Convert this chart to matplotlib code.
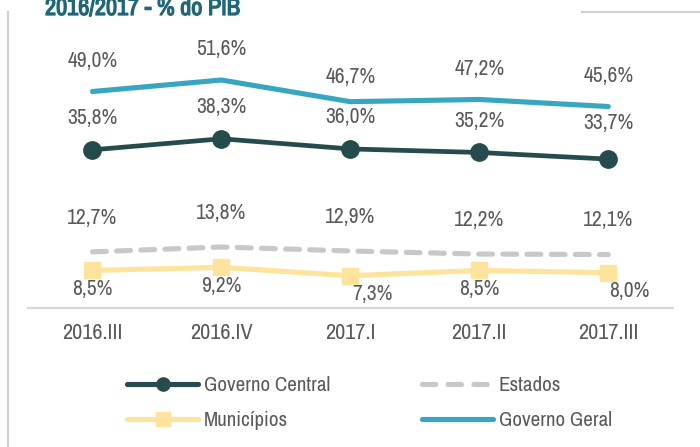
import matplotlib

matplotlib.use("Agg")
import matplotlib.pyplot as plt
import matplotlib.patheffects as pe
from matplotlib import font_manager
from matplotlib.lines import Line2D
import numpy as np

# prefer a narrow face like the original (Arial Narrow look)
_fonts = font_manager.fontManager.ttflist
_narrow = sorted({f.name for f in _fonts if "Narrow" in f.name or "Condensed" in f.name})
_cond = sorted({f.name for f in _fonts if str(f.stretch) in ("condensed", "semi-condensed", "extra-condensed")})
if _narrow:
    FAMILY = [_narrow[0], "DejaVu Sans"]
    STRETCH = "normal"
elif _cond:
    FAMILY = [_cond[0], "DejaVu Sans"]
    STRETCH = "condensed"
else:
    FAMILY = ["Liberation Sans", "DejaVu Sans"]
    STRETCH = "normal"

plt.rcParams.update(
    {
        "font.family": FAMILY,
        "font.stretch": STRETCH,
        "axes.unicode_minus": False,
    }
)

QUARTERS = ["2016.III", "2016.IV", "2017.I", "2017.II", "2017.III"]
GOV_GERAL = [49.0, 51.6, 46.7, 47.2, 45.6]
GOV_CENTRAL = [35.8, 38.3, 36.0, 35.2, 33.7]
ESTADOS = [12.7, 13.8, 12.9, 12.2, 12.1]
MUNICIPIOS = [8.5, 9.2, 7.3, 8.5, 8.0]

C_CENTRAL = "#264B4C"
C_GERAL = "#38A6C0"
C_ESTADOS = "#C8C8C8"
C_MUNIC = "#FDE39C"
C_TEXT = "#5A5A5A"
C_TITLE = "#1F6677"
FS = 15.5


def fmt(v):
    return f"{v:.1f}%".replace(".", ",")


fig = plt.figure(figsize=(7.0, 4.47), dpi=100)
ax = fig.add_axes([0.04, 0.311, 0.921, 0.593])
x = np.arange(len(QUARTERS))

ax.plot(x, GOV_GERAL, color=C_GERAL, lw=3.7, solid_capstyle="round", zorder=3)
ax.plot(x, GOV_CENTRAL, color=C_CENTRAL, lw=3.4, marker="o", ms=12.5,
        solid_capstyle="round", zorder=3)
ax.plot(x, ESTADOS, color=C_ESTADOS, lw=3.7, linestyle=(0, (2.7, 2.0)),
        dash_capstyle="round", zorder=2)
ax.plot(x, MUNICIPIOS, color=C_MUNIC, lw=3.7, marker="s", ms=12,
        solid_capstyle="round", zorder=2)

# label offsets in points (excel-style placement)
geral_dy = [22, 22, 18, 22, 22]
central_dy = [23, 23, 23, 23, 26]
mun_dx = [0, 0, 16, 0, 15]

lab = dict(ha="center", va="center", fontsize=FS, color=C_TEXT,
           textcoords="offset points")
for i in x:
    ax.annotate(fmt(GOV_GERAL[i]), (i, GOV_GERAL[i]), xytext=(0, geral_dy[i]), **lab)
    ax.annotate(fmt(GOV_CENTRAL[i]), (i, GOV_CENTRAL[i]), xytext=(0, central_dy[i]), **lab)
    ax.annotate(fmt(ESTADOS[i]), (i, ESTADOS[i]), xytext=(0, 24.5), **lab)
    ax.annotate(fmt(MUNICIPIOS[i]), (i, MUNICIPIOS[i]), xytext=(mun_dx[i], -13.5), **lab)

ax.set_xlim(-0.5, 4.5)
ax.set_ylim(0, 60)
ax.set_xticks(x)
ax.set_xticklabels(QUARTERS, fontsize=16, color=C_TEXT)
ax.tick_params(axis="x", length=0, pad=11)
ax.set_yticks([])
for s in ["top", "right", "left"]:
    ax.spines[s].set_visible(False)
ax.spines["bottom"].set_color("#D9D9D9")
ax.spines["bottom"].set_linewidth(1.6)

# outer frame pieces and title (cut at the top edge, as in the original)
fig.add_artist(Line2D([8 / 700, 8 / 700], [0, 1 - 12 / 447], color="#D0D0D0", lw=1.5))
fig.add_artist(Line2D([582 / 700, 1], [1 - 12 / 447, 1 - 12 / 447], color="#D0D0D0", lw=1.5))
title = fig.text(45 / 700, 1 - 15 / 447, "2016/2017 - % do PIB", fontsize=17.5, fontweight="bold",
                 color=C_TITLE, va="baseline", ha="left")
title.set_path_effects([pe.withStroke(linewidth=0.9, foreground=C_TITLE)])

handles = [
    Line2D([], [], color=C_CENTRAL, lw=3.7, marker="o", ms=9.5, solid_capstyle="round"),
    Line2D([], [], color=C_MUNIC, lw=3.7, marker="s", ms=9.5, solid_capstyle="round"),
    Line2D([], [], color=C_ESTADOS, lw=3.7, linestyle=(0, (2.6, 2.4)), dash_capstyle="round"),
    Line2D([], [], color=C_GERAL, lw=3.7, solid_capstyle="round"),
]
labels = ["Governo Central", "Municípios", "Estados", "Governo Geral"]
leg = fig.legend(handles, labels, ncol=2, frameon=False, fontsize=15.1,
                 loc="center left", bbox_to_anchor=(127 / 700, 1 - 403 / 447),
                 handlelength=3.4, handletextpad=0.25, columnspacing=4.4,
                 labelspacing=0.75, borderpad=0, borderaxespad=0)
for t in leg.get_texts():
    t.set_color(C_TEXT)

fig.savefig("out.png", dpi=100)
